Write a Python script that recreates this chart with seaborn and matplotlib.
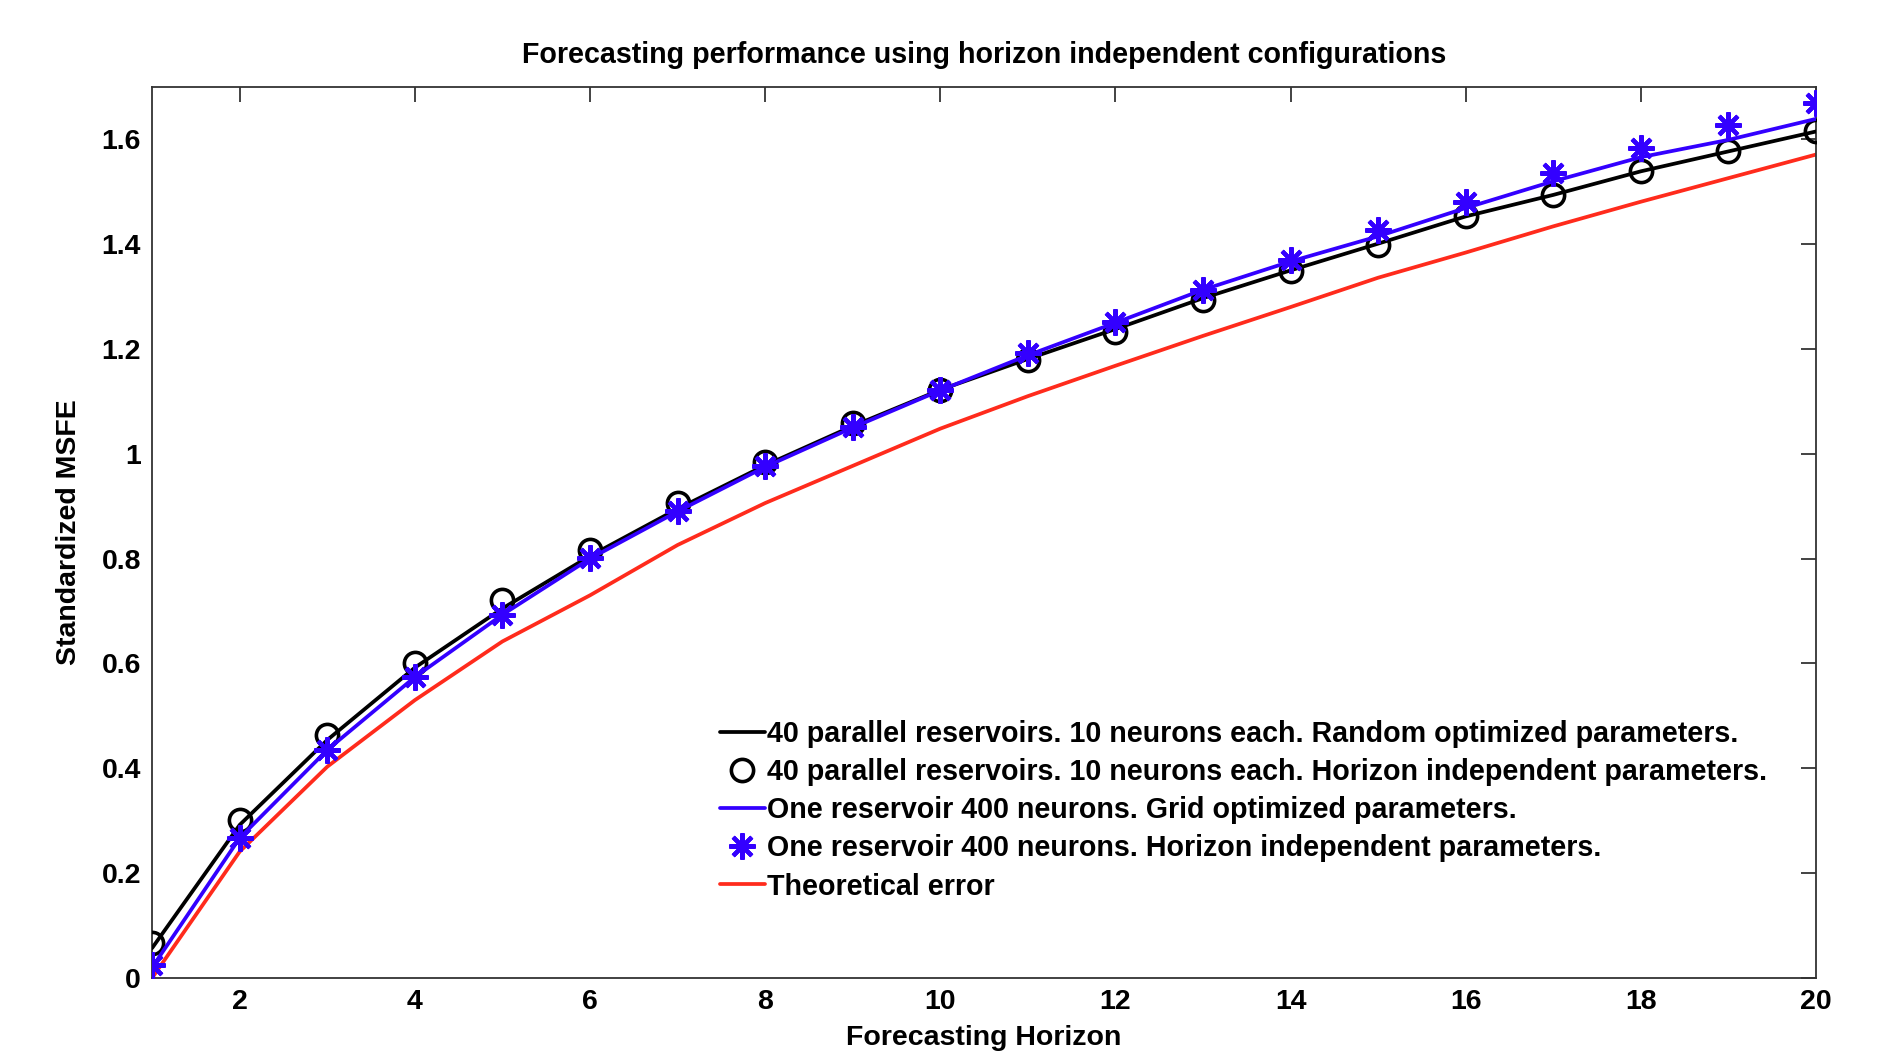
import numpy as np
import pandas as pd
import matplotlib
matplotlib.use("Agg")
import matplotlib.pyplot as plt
import seaborn as sns

horizon = list(range(1, 21))
parallel_random_line = [0.057, 0.292, 0.454, 0.592, 0.705, 0.805, 0.895, 0.978, 1.053, 1.122,
                        1.181, 1.238, 1.297, 1.350, 1.401, 1.453, 1.494, 1.539, 1.577, 1.615]
parallel_indep_pts = [0.066, 0.302, 0.464, 0.600, 0.721, 0.817, 0.906, 0.985, 1.059, 1.122,
                      1.179, 1.233, 1.294, 1.348, 1.399, 1.453, 1.494, 1.539, 1.577, 1.615]
single_grid_line = [0.020, 0.267, 0.435, 0.574, 0.693, 0.800, 0.890, 0.975, 1.050, 1.121,
                    1.188, 1.250, 1.313, 1.367, 1.415, 1.469, 1.520, 1.566, 1.599, 1.639]
single_indep_pts = [0.025, 0.267, 0.435, 0.574, 0.693, 0.801, 0.890, 0.976, 1.052, 1.122,
                    1.192, 1.252, 1.313, 1.370, 1.427, 1.481, 1.536, 1.584, 1.628, 1.669]
theoretical = [0.000, 0.241, 0.403, 0.530, 0.642, 0.730, 0.826, 0.906, 0.977, 1.048,
               1.110, 1.168, 1.225, 1.280, 1.336, 1.384, 1.434, 1.481, 1.526, 1.571]

labels = ["40 parallel reservoirs. 10 neurons each. Random optimized parameters.",
          "40 parallel reservoirs. 10 neurons each. Horizon independent parameters.",
          "One reservoir 400 neurons. Grid optimized parameters.",
          "One reservoir 400 neurons. Horizon independent parameters.",
          "Theoretical error"]
xticks = [2, 4, 6, 8, 10, 12, 14, 16, 18, 20]
yticks = [0, 0.2, 0.4, 0.6, 0.8, 1.0, 1.2, 1.4, 1.6]
ytick_labels = ["0", "0.2", "0.4", "0.6", "0.8", "1", "1.2", "1.4", "1.6"]

sns.set_theme(style="white")
plt.rcParams['font.family'] = ['Liberation Sans', 'DejaVu Sans']
plt.rcParams['font.weight'] = 'bold'
plt.rcParams['text.color'] = 'black'
plt.rcParams['axes.labelcolor'] = 'black'

BLACK = "#000000"
BLUE = "#3300ff"
RED = "#ff2b1c"
LW = 2.7

fig = plt.figure(figsize=(18.87, 10.51), dpi=100)
ax = fig.add_axes([0.0806, 0.0695, 0.8818, 0.8478])

sns.lineplot(x=horizon, y=parallel_random_line, ax=ax, color=BLACK, linewidth=LW,
             label=labels[0], zorder=3)
sns.lineplot(x=horizon, y=parallel_indep_pts, ax=ax, color=BLACK, linewidth=0,
             marker='o', markersize=16, markerfacecolor='none', markeredgecolor=BLACK,
             markeredgewidth=2.6, label=labels[1], zorder=4)
sns.lineplot(x=horizon, y=single_grid_line, ax=ax, color=BLUE, linewidth=LW,
             label=labels[2], zorder=5)
sns.lineplot(x=horizon, y=single_indep_pts, ax=ax, color=BLUE, linewidth=0,
             marker=(8, 2, 0), markersize=19, markeredgecolor=BLUE,
             markeredgewidth=3.0, label=labels[3], zorder=6)
sns.lineplot(x=horizon, y=theoretical, ax=ax, color=RED, linewidth=LW,
             label=labels[4], zorder=2)

ax.set_xlim(1, 20)
ax.set_ylim(0, 1.7)
ax.set_xticks(xticks)
ax.set_xticklabels([str(t) for t in xticks])
ax.set_yticks(yticks)
ax.set_yticklabels(ytick_labels)

ax.tick_params(axis='both', which='both', direction='in', length=11, width=1.2,
               top=True, right=True, labelsize=20.5, colors='#222222', labelcolor='black', pad=8)
for lbl in ax.get_xticklabels() + ax.get_yticklabels():
    lbl.set_fontweight('bold')
for sp in ax.spines.values():
    sp.set_color('#333333')
    sp.set_linewidth(1.3)
    sp.set_visible(True)

ax.set_xlabel("Forecasting Horizon", fontsize=20.5, fontweight='bold', labelpad=7, color='black')
ax.set_ylabel("Standardized MSFE", fontsize=20.5, fontweight='bold', labelpad=14, color='black')
ax.set_title("Forecasting performance using horizon independent configurations",
             fontsize=20.6, fontweight='bold', pad=17, color='black')

leg = ax.legend(loc='upper left', bbox_to_anchor=(0.341, 0.289), frameon=False,
                fontsize=20.6, handlelength=1.6, handletextpad=0.05, labelspacing=0.35,
                borderaxespad=0, borderpad=0)
for t in leg.get_texts():
    t.set_fontweight('bold')
    t.set_color('black')

fig.savefig("out.png", dpi=100, facecolor='white')
